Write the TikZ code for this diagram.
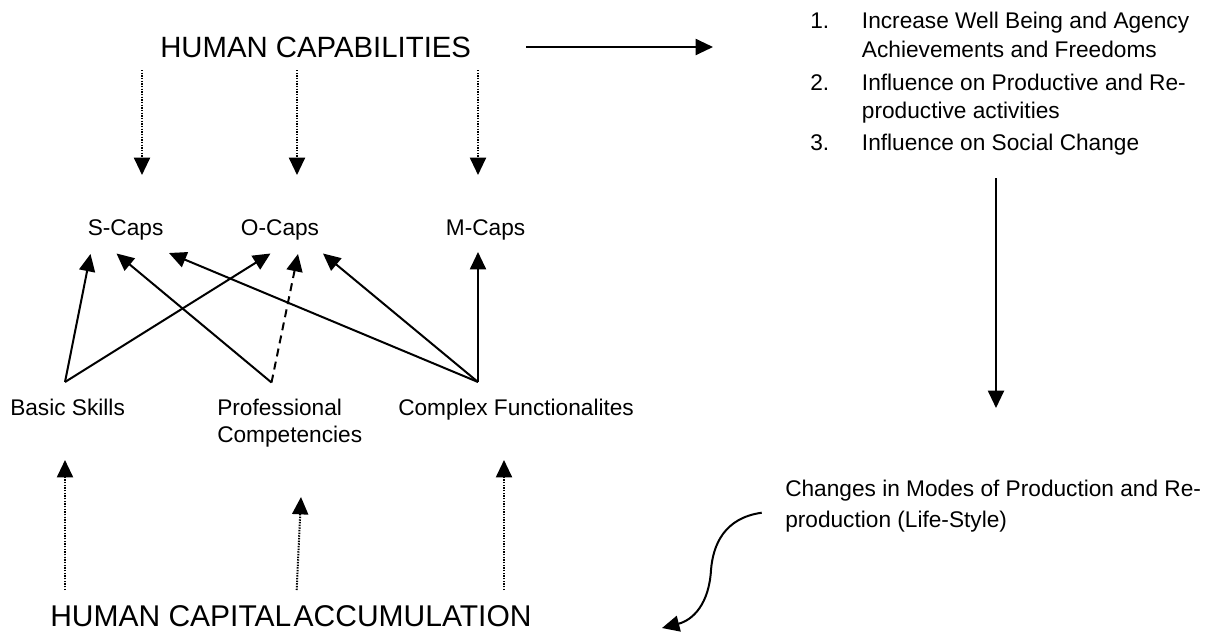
\documentclass[tikz,border=0pt]{standalone}
\usepackage{fontspec}
\setmainfont{Liberation Sans}
\usetikzlibrary{arrows.meta}
\begin{document}
\begin{tikzpicture}[x=0.75pt,y=-0.75pt,
  lbl/.style={anchor=base west,inner sep=0pt,font=\fontsize{17}{20}\selectfont},
  big/.style={anchor=base west,inner sep=0pt,font=\fontsize{22}{26}\selectfont},
  bigger/.style={anchor=base west,inner sep=0pt,font=\fontsize{22.5}{26}\selectfont},
  tipped/.style={-{Triangle[length=13pt,width=12pt]}},
  solidarr/.style={tipped,line width=1.5pt},
  dotarr/.style={tipped,line width=1.5pt,dash pattern=on 1.1pt off 0.9pt},
  dasharr/.style={tipped,line width=1.5pt,dash pattern=on 6pt off 4pt},
]
\useasboundingbox (0,0) rectangle (1209,633);

% titles
\node[big] (hc) at (160,57) {HUMAN CAPABILITIES};
\node[bigger] (hca) at (50,626) {HUMAN CAPITAL\hspace{-0.2em} ACCUMULATION};

% caps
\node[lbl] (sc) at (87.5,235) {S-Caps};
\node[lbl] (oc) at (240.7,235) {O-Caps};
\node[lbl] (mc) at (445.6,235) {M-Caps};

% bottom labels
\node[lbl] (bs) at (10,415) {Basic Skills};
\node[lbl] (pc1) at (217,415) {Professional};
\node[lbl] (pc2) at (217,442) {Competencies};
\node[lbl] (cf) at (398,415) {Complex Functionalites};

% list
\node[lbl] (n1) at (810,28.5) {1.};
\node[lbl] (t1a) at (861.7,28.5) {Increase Well Being and Agency};
\node[lbl] (t1b) at (861.7,57.5) {Achievements and Freedoms};
\node[lbl] (n2) at (810,90) {2.};
\node[lbl] (t2a) at (861.7,90) {Influence on Productive and Re-};
\node[lbl] (t2b) at (861.7,118.5) {productive activities};
\node[lbl] (n3) at (810,150) {3.};
\node[lbl] (t3a) at (861.7,150) {Influence on Social Change};

% changes
\node[lbl] (ch1) at (785,496) {Changes in Modes of Production and Re-};
\node[lbl] (ch2) at (785,527) {production (Life-Style)};

% coordinates
\coordinate (hcR) at (526,47);
\coordinate (lstL) at (713,47);
\coordinate (lstB) at (996,178);
\coordinate (chT) at (996,408);
\coordinate (chL) at (761.7,512.7);
\coordinate (hcaR) at (662,628);

\coordinate (hcS) at (142,70);  \coordinate (scT) at (142,175);
\coordinate (hcO) at (297,70);  \coordinate (ocT) at (297,175);
\coordinate (hcM) at (478,70);  \coordinate (mcT) at (478,175);

\coordinate (bsA) at (65,382);
\coordinate (pcA) at (271.5,382.5);
\coordinate (cfA) at (478,382);
\coordinate (scB1) at (90.5,254);
\coordinate (scB2) at (116.5,253.5);
\coordinate (scB3) at (169,253);
\coordinate (ocB1) at (270.5,253.5);
\coordinate (ocB2) at (298,254);
\coordinate (ocB3) at (323,253.5);
\coordinate (mcB) at (478,252);

\coordinate (hcaB) at (65,590);  \coordinate (bsB) at (65,460);
\coordinate (hcaP) at (296.7,590);  \coordinate (pcB) at (301,497);
\coordinate (hcaC) at (504,590);  \coordinate (cfB) at (504,460);

% arrows
\draw[solidarr] (hcR) -- (lstL);
\draw[solidarr] (lstB) -- (chT);
\draw[solidarr] (chL) .. controls (724,518) and (713,545) .. (711,570)
                 .. controls (709,604) and (693,620) .. (hcaR);

\draw[dotarr] (hcS) -- (scT);
\draw[dotarr] (hcO) -- (ocT);
\draw[dotarr] (hcM) -- (mcT);

\draw[solidarr] (bsA) -- (scB1);
\draw[solidarr] (bsA) -- (ocB1);
\draw[solidarr] (pcA) -- (scB2);
\draw[dasharr] (pcA) -- (ocB2);
\draw[solidarr] (cfA) -- (scB3);
\draw[solidarr] (cfA) -- (ocB3);
\draw[solidarr] (cfA) -- (mcB);

\draw[dotarr] (hcaB) -- (bsB);
\draw[dotarr] (hcaP) -- (pcB);
\draw[dotarr] (hcaC) -- (cfB);
\end{tikzpicture}
\end{document}
